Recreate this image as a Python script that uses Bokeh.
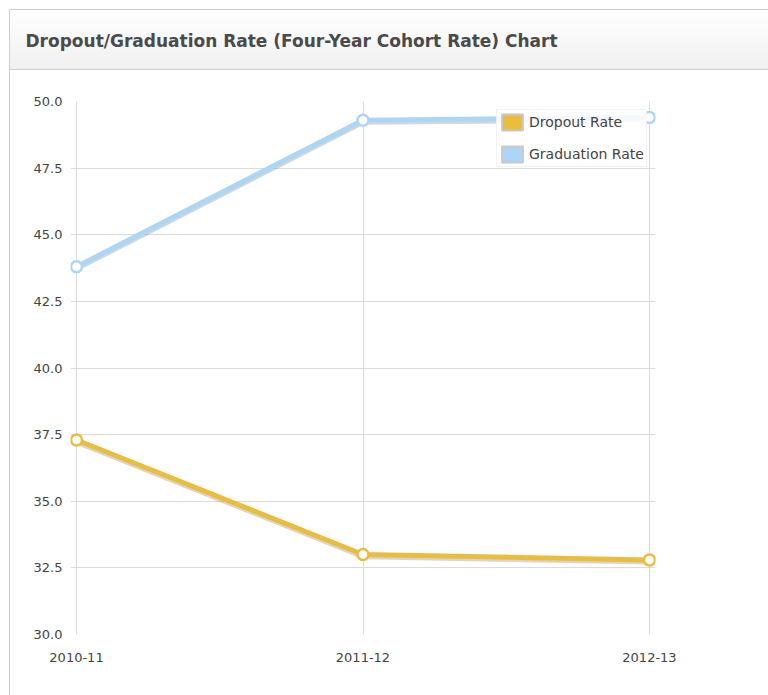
from bokeh.plotting import figure
from bokeh.models import Range1d, FixedTicker, Legend, LegendItem, Title
from bokeh.embed import file_html
from bokeh.resources import INLINE

title_text = "Dropout/Graduation Rate (Four-Year Cohort Rate) Chart"
years = ["2010-11", "2011-12", "2012-13"]
dropout_rate = [37.3, 33.0, 32.8]
graduation_rate = [43.8, 49.3, 49.4]
y_ticks = [30.0, 32.5, 35.0, 37.5, 40.0, 42.5, 45.0, 47.5, 50.0]

DROP_C = "#ebbd3c"
GRAD_C = "#acd6f6"
FONT = "DejaVu Sans"
EDGE = "#cfcfcf"

xs = list(range(len(years)))
pad = 0.021  # a little room so the end markers are not cut by the frame
p = figure(width=768, height=695, output_backend="svg", toolbar_location=None,
           x_range=Range1d(-pad, len(years) - 1 + pad), y_range=Range1d(30, 50),
           min_border_left=70, min_border_right=113, min_border_top=101, min_border_bottom=61,
           title=title_text)
p.outline_line_color = None
p.background_fill_alpha = 0
p.border_fill_alpha = 0
# panel box (left edge) and the title bar behind a transparent canvas
p.styles = {
    "background": (
        f"linear-gradient({EDGE},{EDGE}) 9px 9px / 100% 1px no-repeat, "
        f"linear-gradient({EDGE},{EDGE}) 9px 69px / 100% 1px no-repeat, "
        f"linear-gradient({EDGE},{EDGE}) 9px 9px / 1px 100% no-repeat, "
        "linear-gradient(#ffffff,#f0f0f0) 9px 9px / 100% 61px no-repeat, "
        "#ffffff"
    )
}

# blank spacer between the chart title and the plot frame
p.add_layout(Title(text=" ", text_font_size="1px", standoff=16), "above")

p.title.align = "left"
p.title.vertical_align = "top"
p.title.offset = -45
p.title.standoff = 60
p.title.text_font = FONT
p.title.text_font_style = "bold"
p.title.text_font_size = "17px"
p.title.text_color = "#4a4a4a"

p.xaxis.ticker = FixedTicker(ticks=xs)
p.xaxis.major_label_overrides = {i: y for i, y in enumerate(years)}
p.yaxis.ticker = FixedTicker(ticks=y_ticks)
p.yaxis.major_label_overrides = {v: f"{v:.1f}" for v in y_ticks}
for ax in (p.xaxis, p.yaxis):
    ax.axis_line_color = None
    ax.major_tick_line_color = None
    ax.minor_tick_line_color = None
    ax.major_label_text_font = FONT
    ax.major_label_text_font_size = "13px"
    ax.major_label_text_color = "#444444"
p.xaxis.major_label_standoff = 12
p.yaxis.major_label_standoff = 2
p.xgrid.ticker = FixedTicker(ticks=xs)
p.ygrid.ticker = FixedTicker(ticks=y_ticks)
p.grid.grid_line_color = "#dcdcdc"
p.grid.grid_line_width = 1

off = 0.08
for ys, c in ((graduation_rate, GRAD_C), (dropout_rate, DROP_C)):
    p.line(xs, [v - off for v in ys], line_color="#777777", line_alpha=0.3, line_width=5)
    p.line(xs, ys, line_color=c, line_width=5)
    p.scatter(xs, ys, size=11, fill_color="white", line_color=c, line_width=2.5)

nan = float("nan")
r_d = p.quad(left=[nan], right=[nan], top=[nan], bottom=[nan], fill_color=DROP_C,
             line_color="#c8c8c8", line_width=2)
r_g = p.quad(left=[nan], right=[nan], top=[nan], bottom=[nan], fill_color=GRAD_C,
             line_color="#c8c8c8", line_width=2)
legend = Legend(items=[LegendItem(label="Dropout Rate", renderers=[r_d]),
                       LegendItem(label="Graduation Rate", renderers=[r_g])],
                location=(426, 467), padding=2, spacing=12, margin=0,
                glyph_width=26, glyph_height=20, label_standoff=4,
                label_text_font=FONT, label_text_font_size="14px", label_text_color="#444444",
                background_fill_color="white", background_fill_alpha=0.85,
                border_line_color="#e6e6e6", border_line_alpha=0.5)
p.add_layout(legend, "center")

open("out.html", "w").write(file_html(p, INLINE))
